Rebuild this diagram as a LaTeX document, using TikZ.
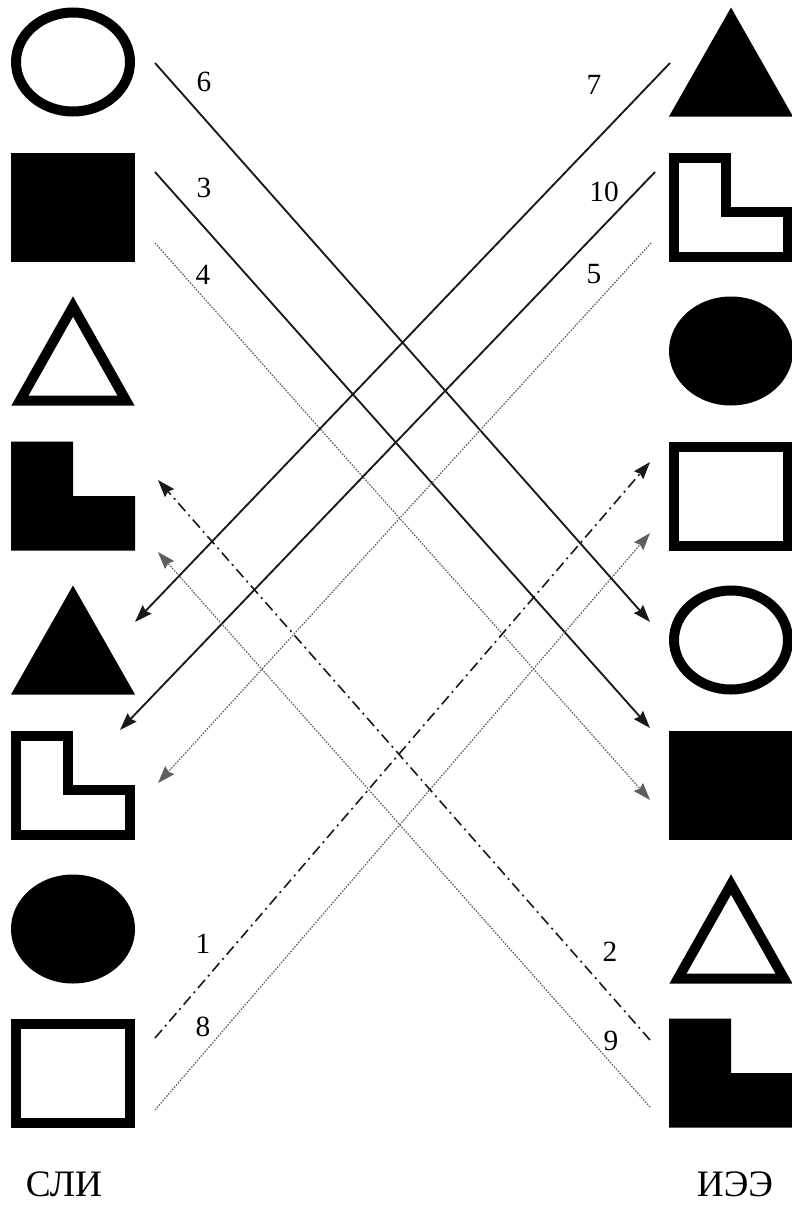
\documentclass[tikz,border=0pt]{standalone}
\usepackage{fontspec}
\setmainfont{Liberation Serif}
\usepackage{tikz}
\usetikzlibrary{arrows.meta,shapes.geometric,calc}
\definecolor{ink}{RGB}{25,25,25}
\definecolor{dotgray}{RGB}{95,95,95}
\tikzset{
  slot/.style={rectangle,inner sep=0pt,outer sep=0pt,minimum width=93pt,minimum height=81.75pt},
  ring/.style={ellipse,draw=black,line width=7.5pt,inner sep=0pt,minimum width=85.5pt,minimum height=74.25pt},
  disc/.style={ellipse,fill=black,inner sep=0pt,minimum width=93pt,minimum height=81.75pt},
  frameo/.style={rectangle,draw=black,line width=7.5pt,inner sep=0pt,minimum width=85.5pt,minimum height=74.25pt},
  blockf/.style={rectangle,fill=black,inner sep=0pt,minimum width=93pt,minimum height=81.75pt},
  rim/.style={draw=black,line width=7.5pt,line join=miter},
  num/.style={inner sep=0pt,font=\fontsize{22}{24}\selectfont},
  colname/.style={inner sep=0pt,font=\fontsize{28}{30}\selectfont},
  tip/.style={-{Stealth[length=13pt,width=9pt,inset=1.5pt]}},
  lnsolid/.style={tip,draw=ink,line width=1.4pt},
  lndot/.style={tip,draw=dotgray,line width=0.9pt,dash pattern=on 1.2pt off 1pt},
  lndash/.style={tip,draw=ink,line width=1.2pt,dash pattern=on 8pt off 3.5pt on 1.5pt off 3.5pt},
}
\begin{document}
\begin{tikzpicture}[x=0.75pt,y=-0.75pt]
  \useasboundingbox (0,0) rectangle (792,1207);

  % left column
  \node[ring] (l1) at (73,62) {};
  \node[blockf] (l2) at (73,207) {};
  \node[slot] (l3) at (73,351) {};
  \draw[rim] ($(l3.south west)+(9,-5)$) -- ($(l3.north)+(0,10)$) -- ($(l3.south east)+(-9,-5)$) -- cycle;
  \node[slot] (l4) at (73,496) {};
  \fill (l4.north west) -- (l4.north) -- (l4.center) -- (l4.east) -- (l4.south east) -- (l4.south west) -- cycle;
  \node[slot] (l5) at (73,640) {};
  \fill (l5.south west) -- (l5.north) -- (l5.south east) -- cycle;
  \node[slot] (l6) at (73,785) {};
  \draw[rim] ($(l6.north west)+(5,5)$) -- ($(l6.north)+(-5,5)$) -- ($(l6.center)+(-5,5)$) -- ($(l6.east)+(-5,5)$)
    -- ($(l6.south east)+(-5,-5)$) -- ($(l6.south west)+(5,-5)$) -- cycle;
  \node[disc] (l7) at (73,929) {};
  \node[frameo] (l8) at (73,1073) {};

  % right column
  \node[slot] (r1) at (731,62) {};
  \fill (r1.south west) -- (r1.north) -- (r1.south east) -- cycle;
  \node[slot] (r2) at (731,207) {};
  \draw[rim] ($(r2.north west)+(5,5)$) -- ($(r2.north)+(-5,5)$) -- ($(r2.center)+(-5,5)$) -- ($(r2.east)+(-5,5)$)
    -- ($(r2.south east)+(-5,-5)$) -- ($(r2.south west)+(5,-5)$) -- cycle;
  \node[disc] (r3) at (731,351) {};
  \node[frameo] (r4) at (731,496) {};
  \node[ring] (r5) at (731,640) {};
  \node[blockf] (r6) at (731,785) {};
  \node[slot] (r7) at (731,929) {};
  \draw[rim] ($(r7.south west)+(9,-5)$) -- ($(r7.north)+(0,10)$) -- ($(r7.south east)+(-9,-5)$) -- cycle;
  \node[slot] (r8) at (731,1073) {};
  \fill (r8.north west) -- (r8.north) -- (r8.center) -- (r8.east) -- (r8.south east) -- (r8.south west) -- cycle;

  % line ends
  \coordinate (s6) at (155,63);   \coordinate (e6) at (650,622);
  \coordinate (s3) at (155,172);  \coordinate (e3) at (650,728);
  \coordinate (s4) at (155,243);  \coordinate (e4) at (650,800);
  \coordinate (s7) at (670,63);   \coordinate (e7) at (135,622);
  \coordinate (s10) at (655,172); \coordinate (e10) at (120,730);
  \coordinate (s5) at (651,243);  \coordinate (e5) at (158,783);
  \coordinate (s1) at (155,1038); \coordinate (e1) at (650,462);
  \coordinate (s8) at (155,1110); \coordinate (e8) at (650,533);
  \coordinate (s2) at (650,1040); \coordinate (e2) at (158,480);
  \coordinate (s9) at (650,1107); \coordinate (e9) at (158,552);

  \draw[lnsolid] (s6) -- (e6);
  \draw[lnsolid] (s3) -- (e3);
  \draw[lndot] (s4) -- (e4);
  \draw[lnsolid] (s7) -- (e7);
  \draw[lnsolid] (s10) -- (e10);
  \draw[lndot] (s5) -- (e5);
  \draw[lndash] (s1) -- (e1);
  \draw[lndot] (s8) -- (e8);
  \draw[lndash] (s2) -- (e2);
  \draw[lndot] (s9) -- (e9);

  % numbers
  \node[num] (n6) at (204,82) {6};
  \node[num] (n3) at (204,188) {3};
  \node[num] (n4) at (203,275) {4};
  \node[num] (n7) at (594,85) {7};
  \node[num] (n10) at (604,192) {10};
  \node[num] (n5) at (594,274) {5};
  \node[num] (n1) at (203,944) {1};
  \node[num] (n8) at (203,1027) {8};
  \node[num] (n2) at (610,952) {2};
  \node[num] (n9) at (611,1041) {9};

  \node[colname] (lcap) at (64,1184) {СЛИ};
  \node[colname] (rcap) at (735,1184) {ИЭЭ};
\end{tikzpicture}
\end{document}
